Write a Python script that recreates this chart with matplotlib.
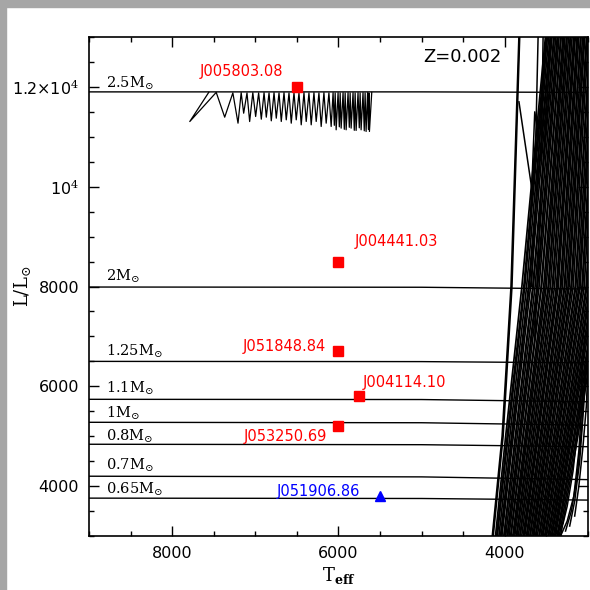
import matplotlib
matplotlib.use("Agg")
import matplotlib.pyplot as plt
from matplotlib.patches import Rectangle
from matplotlib.ticker import MultipleLocator

plt.rcParams["font.family"] = "DejaVu Sans"
plt.rcParams["mathtext.fontset"] = "dejavuserif"

# horizontal (post-AGB like) tracks, L at Teff = 9500, 5000, 3000
track_teff = [9500, 5000, 3000]
mass_labels = ["2.5M", "2M", "1.25M", "1.1M", "1M", "0.8M", "0.7M", "0.65M"]
track_L_hot = [11900, 7990, 6500, 5740, 5280, 4840, 4200, 3760]
track_L_mid = [11900, 7985, 6495, 5735, 5270, 4830, 4185, 3752]
track_L_cool = [11890, 7950, 6470, 5690, 5220, 4790, 4130, 3720]
label_L = [12080, 8200, 6700, 5960, 5460, 4990, 4410, 3940]

# thermal pulse sawtooth of the 2.5 Msun track
saw_tip_teff = [7788, 7368, 7208, 7140, 7068, 6996, 6928, 6868, 6808, 6748, 6688,
                6628, 6568, 6508, 6448, 6388, 6328, 6268, 6208, 6148, 6088, 6050,
                6028, 5990, 5968, 5930, 5908, 5870, 5848, 5810, 5788, 5750, 5728,
                5690, 5668, 5640, 5628]
saw_tip_L = [11306, 11393, 11273, 11473, 11306, 11407, 11353, 11393, 11320, 11373,
             11307, 11340, 11273, 11340, 11240, 11307, 11240, 11307, 11207, 11273,
             11207, 11230, 11140, 11200, 11173, 11150, 11140, 11190, 11173, 11130,
             11127, 11180, 11140, 11120, 11107, 11150, 11107]
saw_top_teff = [7470, 7270, 7170, 7100, 7030, 6960, 6895, 6835, 6775, 6715, 6655,
                6595, 6535, 6475, 6415, 6355, 6295, 6235, 6175, 6115, 6065, 6040,
                6005, 5980, 5945, 5920, 5885, 5860, 5825, 5800, 5765, 5740, 5705,
                5680, 5650, 5634, 5600]
saw_top_L = [11890, 11880, 11885, 11880, 11885, 11880, 11885, 11880, 11885, 11880,
             11885, 11880, 11885, 11880, 11885, 11880, 11885, 11880, 11885, 11880,
             11885, 11880, 11885, 11880, 11885, 11880, 11885, 11880, 11885, 11880,
             11885, 11880, 11885, 11880, 11885, 11880, 11890]

# giant branch fan: Teff read at L = 3000, 5000, 8000, 13000
rgb_L = [3000, 5000, 8000, 13000]
rgb_bot = [4150, 4140, 4112, 4098, 4090, 4071, 4052, 4047, 4035, 4012, 4008, 3990,
           3972, 3965, 3950, 3931, 3926, 3905, 3893, 3880, 3862, 3855, 3838, 3820,
           3815, 3797, 3779, 3772, 3760, 3741, 3733, 3718, 3700, 3694, 3676, 3662,
           3650, 3632, 3625, 3609, 3590, 3583, 3566, 3551, 3540, 3522, 3514, 3498,
           3480, 3471, 3455, 3440, 3431, 3415, 3402, 3390, 3372, 3360, 3345, 3330]
rgb_low = [4032, 4021, 3990, 3972, 3961, 3940, 3920, 3912, 3898, 3874, 3868, 3850,
           3829, 3821, 3806, 3784, 3778, 3756, 3742, 3728, 3708, 3700, 3682, 3663,
           3656, 3637, 3618, 3610, 3597, 3576, 3568, 3552, 3532, 3525, 3506, 3490,
           3478, 3458, 3450, 3433, 3412, 3404, 3386, 3370, 3358, 3338, 3329, 3312,
           3292, 3282, 3265, 3248, 3238, 3220, 3206, 3192, 3172, 3158, 3140, 3122]
rgb_mid = [3925, 3915, 3795, 3772, 3760, 3738, 3716, 3707, 3690, 3664, 3657, 3636,
           3614, 3605, 3588, 3564, 3557, 3533, 3518, 3502, 3480, 3471, 3452, 3430,
           3422, 3402, 3380, 3371, 3357, 3334, 3325, 3308, 3286, 3278, 3258, 3240,
           3227, 3205, 3196, 3178, 3155, 3146, 3126, 3108, 3095, 3073, 3063, 3045,
           3023, 3012, 2993, 2975, 2964, 2945, 2930, 2914, 2893, 2878, 2858, 2838]
rgb_top = [3830, 3822, 3512, 3500, 3488, 3472, 3455, 3447, 3432, 3412, 3405, 3388,
           3370, 3362, 3348, 3328, 3322, 3302, 3290, 3276, 3258, 3250, 3234, 3215,
           3208, 3191, 3172, 3164, 3152, 3132, 3124, 3110, 3090, 3083, 3065, 3050,
           3038, 3018, 3010, 2994, 2974, 2966, 2948, 2932, 2920, 2900, 2891, 2875,
           2855, 2845, 2828, 2812, 2802, 2785, 2771, 2756, 2737, 2723, 2704, 2686]

# blue loops and hooks near the giant branch
loop_teff = [[3830, 3672, 3630, 3600], [3700, 3640, 3560, 3540],
             [3680, 3600, 3500], [3640, 3560, 3440],
             [3400, 3300, 3250, 3180, 3100, 3040], [3330, 3250, 3170, 3110, 3060],
             [3270, 3200, 3130, 3080, 3030], [3220, 3160, 3100, 3060, 3010],
             [3160, 3110, 3060, 3020, 2990]]
loop_L = [[11700, 9920, 10800, 13000], [9000, 11500, 10600, 13000],
          [8000, 10500, 13000], [7000, 10000, 13000],
          [3000, 3250, 3600, 4300, 5500, 7000], [3000, 3300, 3800, 4700, 6000],
          [3100, 3500, 4200, 5100, 6400], [3200, 3700, 4500, 5400, 6600],
          [3400, 4000, 4800, 5600, 6800]]

star_names = ["J005803.08", "J004441.03", "J051848.84", "J004114.10", "J053250.69"]
star_teff = [6500, 6000, 6000, 5750, 6000]
star_L = [12000, 8500, 6700, 5800, 5200]
star_text_teff = [7168, 5808, 6148, 5712, 6139]
star_text_L = [12306, 8900, 6800, 6080, 4986]
star_text_ha = ["center", "left", "right", "left", "right"]

blue_name = "J051906.86"
blue_teff = 5500
blue_L = 3800

fig = plt.figure(figsize=(5.9, 5.9), dpi=100)
ax = fig.add_axes([0.1508, 0.0915, 0.8458, 0.8458])

lw = 1.0
for i in range(len(mass_labels)):
    ax.plot(track_teff, [track_L_hot[i], track_L_mid[i], track_L_cool[i]],
            color="black", lw=lw)
    ax.text(8796, label_L[i], "$\\mathrm{" + mass_labels[i] + "}_{\\odot}$",
            fontsize=10.5, va="center", ha="left")

saw_x = [7560]
saw_y = [11890]
for i in range(len(saw_tip_teff)):
    saw_x += [saw_tip_teff[i], saw_top_teff[i]]
    saw_y += [saw_tip_L[i], saw_top_L[i]]
ax.plot(saw_x, saw_y, color="black", lw=0.9)

for b, lo, m, t in zip(rgb_bot, rgb_low, rgb_mid, rgb_top):
    ax.plot([b, lo, m, t], rgb_L, color="black", lw=1.25)
for tx, ly in zip(loop_teff, loop_L):
    ax.plot(tx, ly, color="black", lw=1.1)

ax.plot(star_teff, star_L, "s", color="red", ms=7, zorder=5)
for i in range(len(star_names)):
    ax.text(star_text_teff[i], star_text_L[i], star_names[i], color="red",
            fontsize=10.5, ha=star_text_ha[i], va="center")

ax.plot(blue_teff, blue_L, "^", color="blue", ms=7, zorder=5)
ax.text(5736, 3886, blue_name, color="blue", fontsize=10.5, ha="right", va="center")

ax.text(4044, 12600, "Z=0.002", fontsize=13, ha="right", va="center")

ax.set_xlim(9000, 3000)
ax.set_ylim(3000, 13000)
ax.set_xticks([8000, 6000, 4000])
ax.set_xticklabels(["8000", "6000", "4000"])
ax.set_yticks([4000, 6000, 8000, 10000, 12000])
ax.set_yticklabels(["4000", "6000", "8000", "10$^4$", "1.2$\\times$10$^4$"])
ax.xaxis.set_minor_locator(MultipleLocator(500))
ax.yaxis.set_minor_locator(MultipleLocator(500))
ax.tick_params(which="both", direction="in", top=True, right=True, labelsize=11.5,
               width=1.0)
ax.tick_params(which="major", length=7, pad=7)
ax.tick_params(which="minor", length=3.6)
for s in ax.spines.values():
    s.set_linewidth(1.2)

ax.set_xlabel("$\\mathrm{T}_{\\mathbf{eff}}$", fontsize=13, labelpad=3)
ax.set_ylabel("$\\mathrm{L/L}_{\\odot}$", fontsize=13)
ax.yaxis.set_label_coords(-0.112, 0.5)

# grey frame strips at top and left
fig.add_artist(Rectangle((0, 1 - 7 / 590), 1, 7 / 590, transform=fig.transFigure,
                         color="#a6a6a6", zorder=10))
fig.add_artist(Rectangle((0, 0), 6 / 590, 1, transform=fig.transFigure,
                         color="#a6a6a6", zorder=10))

fig.savefig("out.png", dpi=100)
